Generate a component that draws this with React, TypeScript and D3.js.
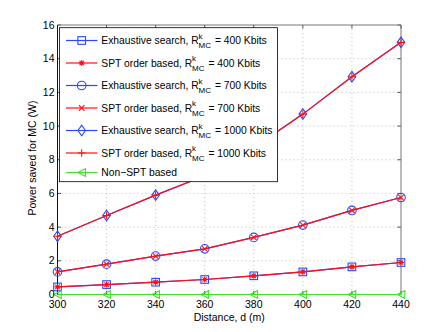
import React from 'react'
import * as d3 from 'd3'

const distances = [300, 320, 340, 360, 380, 400, 420, 440]
const rate400 = [0.45, 0.59, 0.73, 0.89, 1.11, 1.34, 1.64, 1.9]
const rate700 = [1.34, 1.8, 2.28, 2.71, 3.39, 4.12, 4.99, 5.76]
const rate1000 = [3.46, 4.69, 5.9, 7.05, 8.72, 10.71, 12.93, 14.97]
const nonSpt = [0, 0, 0, 0, 0, 0, 0, 0]
const yTicks = [0, 2, 4, 6, 8, 10, 12, 14, 16]

const BLUE = '#2a48ff'
const RED = '#ff1010'
const GREEN = '#44e02a'

type Series = { label: string; rate?: string; values: number[]; color: string; marker: string }

const series: Series[] = [
    { label: 'Exhaustive search, R', rate: '400 Kbits', values: rate400, color: BLUE, marker: 'square' },
    { label: 'SPT order based, R', rate: '400 Kbits', values: rate400, color: RED, marker: 'star' },
    { label: 'Exhaustive search, R', rate: '700 Kbits', values: rate700, color: BLUE, marker: 'circle' },
    { label: 'SPT order based, R', rate: '700 Kbits', values: rate700, color: RED, marker: 'x' },
    { label: 'Exhaustive search, R', rate: '1000 Kbits', values: rate1000, color: BLUE, marker: 'diamond' },
    { label: 'SPT order based, R', rate: '1000 Kbits', values: rate1000, color: RED, marker: 'plus' },
    { label: 'Non\u2212SPT based', values: nonSpt, color: GREEN, marker: 'triangle' },
]

function Marker({ type, x, y, color }: { type: string; x: number; y: number; color: string }) {
    const s = 3.8
    const common = { fill: 'none', stroke: color, strokeWidth: 1.1 }
    switch (type) {
        case 'square':
            return <rect x={x - s} y={y - s} width={2 * s} height={2 * s} {...common} />
        case 'circle':
            return <circle cx={x} cy={y} r={s + 0.5} {...common} />
        case 'diamond':
            return <path d={`M${x},${y - s - 1.5}L${x + s},${y}L${x},${y + s + 1.5}L${x - s},${y}Z`} {...common} />
        case 'x':
            return <path d={`M${x - 2.8},${y - 2.8}L${x + 2.8},${y + 2.8}M${x - 2.8},${y + 2.8}L${x + 2.8},${y - 2.8}`} {...common} />
        case 'plus':
            return <path d={`M${x - s},${y}L${x + s},${y}M${x},${y - s}L${x},${y + s}`} {...common} />
        case 'star':
            return <path d={`M${x - 3},${y}L${x + 3},${y}M${x},${y - 3}L${x},${y + 3}M${x - 2.2},${y - 2.2}L${x + 2.2},${y + 2.2}M${x - 2.2},${y + 2.2}L${x + 2.2},${y - 2.2}`} {...common} />
        case 'triangle':
            return <path d={`M${x - s},${y}L${x + s},${y - s}L${x + s},${y + s}Z`} {...common} />
        default:
            return null
    }
}

export default function App() {
    const width = 443
    const height = 332
    const left = 57.5
    const right = 401
    const top = 25
    const bottom = 294.5

    const x = d3.scaleLinear().domain([300, 440]).range([left, right])
    const y = d3.scaleLinear().domain([0, 16]).range([bottom, top])

    const line = d3.line<number>()
        .x((d, i) => x(distances[i]))
        .y(d => y(d))

    const font = 'Liberation Sans, Arial, Helvetica, sans-serif'

    // legend layout
    const lgLeft = 59.5
    const lgTop = 27.7
    const lgW = 218
    const lgH = 154
    const rowsY = [40.5, 63, 85.5, 108, 130.5, 153, 172.5]

    return (
        <svg width={width} height={height} style={{ position: 'absolute', left: 0, top: 0, background: '#fff' }} fontFamily={font}>
            <rect x={0} y={0} width={width} height={height} fill="#fff" />
            {/* grid */}
            <g stroke="#b0b0b0" strokeWidth={0.8} strokeDasharray="1,3">
                {distances.slice(1, -1).map(d => (
                    <line key={'gx' + d} x1={x(d)} x2={x(d)} y1={top} y2={bottom} />
                ))}
                {yTicks.slice(1, -1).map(t => (
                    <line key={'gy' + t} x1={left} x2={right} y1={y(t)} y2={y(t)} />
                ))}
            </g>
            {/* ticks inside */}
            <g stroke="#222" strokeWidth={0.8}>
                {distances.map(d => (
                    <g key={'tx' + d}>
                        <line x1={x(d)} x2={x(d)} y1={bottom} y2={bottom - 3.5} />
                        <line x1={x(d)} x2={x(d)} y1={top} y2={top + 3.5} />
                    </g>
                ))}
                {yTicks.map(t => (
                    <g key={'ty' + t}>
                        <line x1={left} x2={left + 3.5} y1={y(t)} y2={y(t)} />
                        <line x1={right} x2={right - 3.5} y1={y(t)} y2={y(t)} />
                    </g>
                ))}
            </g>
            {/* frame */}
            <line x1={left} x2={left} y1={top} y2={bottom} stroke="#111" strokeWidth={1} />
            <line x1={left} x2={right} y1={bottom} y2={bottom} stroke="#111" strokeWidth={1} />
            <line x1={right} x2={right} y1={top} y2={bottom} stroke="#777" strokeWidth={1} />
            <line x1={left} x2={right} y1={top} y2={top} stroke="#777" strokeWidth={1} />
            {/* data */}
            {series.map((s, si) => (
                <g key={'s' + si}>
                    <path d={line(s.values) || ''} fill="none" stroke={s.color} strokeWidth={1.2} />
                    {s.values.map((v, i) => (
                        <Marker key={i} type={s.marker} x={x(distances[i])} y={y(v)} color={s.color} />
                    ))}
                </g>
            ))}
            {/* tick labels */}
            <g fontSize={10.5} fill="#000">
                {distances.map(d => (
                    <text key={'lx' + d} x={x(d)} y={bottom + 13.5} textAnchor="middle">{d}</text>
                ))}
                {yTicks.map(t => (
                    <text key={'ly' + t} x={left - 3} y={y(t) + 3.5} textAnchor="end">{t}</text>
                ))}
            </g>
            <text x={(left + right) / 2} y={320.5} textAnchor="middle" fontSize={10.5}>Distance, d (m)</text>
            <text transform={`translate(35.5,158) rotate(-90)`} textAnchor="middle" fontSize={10.5}>Power saved for MC (W)</text>
            {/* legend */}
            <rect x={lgLeft} y={lgTop} width={lgW} height={lgH} fill="#fff" stroke="#000" strokeWidth={0.8} />
            {series.map((s, si) => (
                <g key={'lg' + si}>
                    <line x1={66} x2={97.5} y1={rowsY[si]} y2={rowsY[si]} stroke={s.color} strokeWidth={1.2} />
                    <Marker type={s.marker} x={81.7} y={rowsY[si]} color={s.color} />
                    <text x={101.3} y={rowsY[si] + 3.8} fontSize={10.3} fill="#000">
                        {s.label}
                        {s.rate && (
                            <>
                                <tspan dy={-5.5} fontSize={8}>k</tspan>
                                <tspan dx={-4} dy={9.5} fontSize={8}>MC</tspan>
                                <tspan dy={-4} dx={1}>{' = ' + s.rate}</tspan>
                            </>
                        )}
                    </text>
                </g>
            ))}
        </svg>
    )
}
